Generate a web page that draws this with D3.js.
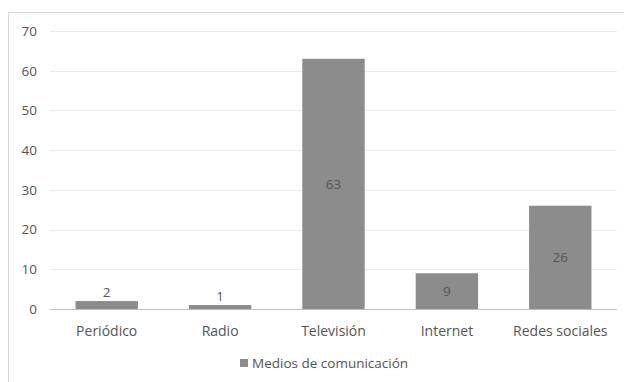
<!DOCTYPE html>
<html>
<head>
<meta charset="utf-8">
<script src="https://cdn.jsdelivr.net/npm/d3@7"></script>
<style>
  html, body { margin: 0; padding: 0; background: #fff; }
  svg { display: block; }
  text { font-family: "Open Sans", sans-serif; fill: #555; }
</style>
</head>
<body>
<svg id="chart" width="624" height="382"></svg>
<script>
// Survey results: preferred media channel
const categories = ["Periódico", "Radio", "Televisión", "Internet", "Redes sociales"];
const values = [2, 1, 63, 9, 26];
const yTicks = [0, 10, 20, 30, 40, 50, 60, 70];
const seriesName = "Medios de comunicación";

const W = 624, H = 382;
const margin = { top: 31, right: 7, bottom: 73, left: 50 };
const svg = d3.select("#chart");

// outer chart-area frame
svg.append("rect")
  .attr("x", 8.5).attr("y", 12.5)
  .attr("width", W).attr("height", H)
  .attr("fill", "#fff").attr("stroke", "#d9d9d9").attr("stroke-width", 1);

const x = d3.scaleBand()
  .domain(categories)
  .range([margin.left, W - margin.right])
  .paddingInner(0.45).paddingOuter(0.225);

const y = d3.scaleLinear()
  .domain([0, 70])
  .range([H - margin.bottom, margin.top]);

// horizontal gridlines
svg.append("g")
  .selectAll("line")
  .data(yTicks.filter(t => t > 0))
  .join("line")
  .attr("x1", margin.left).attr("x2", W - margin.right)
  .attr("y1", d => Math.round(y(d)) + 0.5).attr("y2", d => Math.round(y(d)) + 0.5)
  .attr("stroke", "#ebebeb").attr("stroke-width", 1);

// y axis labels
const yAxis = d3.axisLeft(y).tickValues(yTicks).tickSize(0).tickPadding(0);
const gy = svg.append("g")
  .attr("transform", `translate(${margin.left - 13},0)`)
  .call(yAxis);
gy.select(".domain").remove();
gy.selectAll("text")
  .attr("font-size", 13.5).attr("fill", "#555")
  .style("font-family", "'Open Sans', sans-serif");

// bars
svg.append("g")
  .selectAll("rect")
  .data(values)
  .join("rect")
  .attr("x", (d, i) => x(categories[i]))
  .attr("y", d => y(d))
  .attr("width", x.bandwidth())
  .attr("height", d => y(0) - y(d))
  .attr("fill", "#8c8c8c");

// baseline
svg.append("line")
  .attr("x1", margin.left).attr("x2", W - margin.right)
  .attr("y1", y(0) + 0.5).attr("y2", y(0) + 0.5)
  .attr("stroke", "#bfbfbf").attr("stroke-width", 1);

// value labels: centred in the bar, or just above it when the bar is too short
svg.append("g")
  .selectAll("text")
  .data(values)
  .join("text")
  .attr("x", (d, i) => x(categories[i]) + x.bandwidth() / 2)
  .attr("y", d => (y(0) - y(d) < 20) ? y(d) - 9 : (y(d) + y(0)) / 2)
  .attr("text-anchor", "middle")
  .attr("dominant-baseline", "central")
  .attr("font-size", 13.5)
  .attr("fill", "#3a3a3a")
  .text(d => d);

// category axis labels
const xAxis = d3.axisBottom(x).tickSize(0).tickPadding(0);
const gx = svg.append("g")
  .attr("transform", `translate(0,${y(0) + 21})`)
  .call(xAxis);
gx.select(".domain").remove();
gx.selectAll("text")
  .attr("font-size", 14).attr("fill", "#555")
  .attr("dy", null)
  .attr("y", 0)
  .attr("dominant-baseline", "central")
  .style("font-family", "'Open Sans', sans-serif");

// legend
const legend = svg.append("g").attr("transform", "translate(240,363)");
legend.append("rect")
  .attr("x", 0).attr("y", -4).attr("width", 8).attr("height", 8)
  .attr("fill", "#8c8c8c");
legend.append("text")
  .attr("x", 12).attr("y", 0)
  .attr("dominant-baseline", "central")
  .attr("font-size", 13.5)
  .text(seriesName);
</script>
</body>
</html>
